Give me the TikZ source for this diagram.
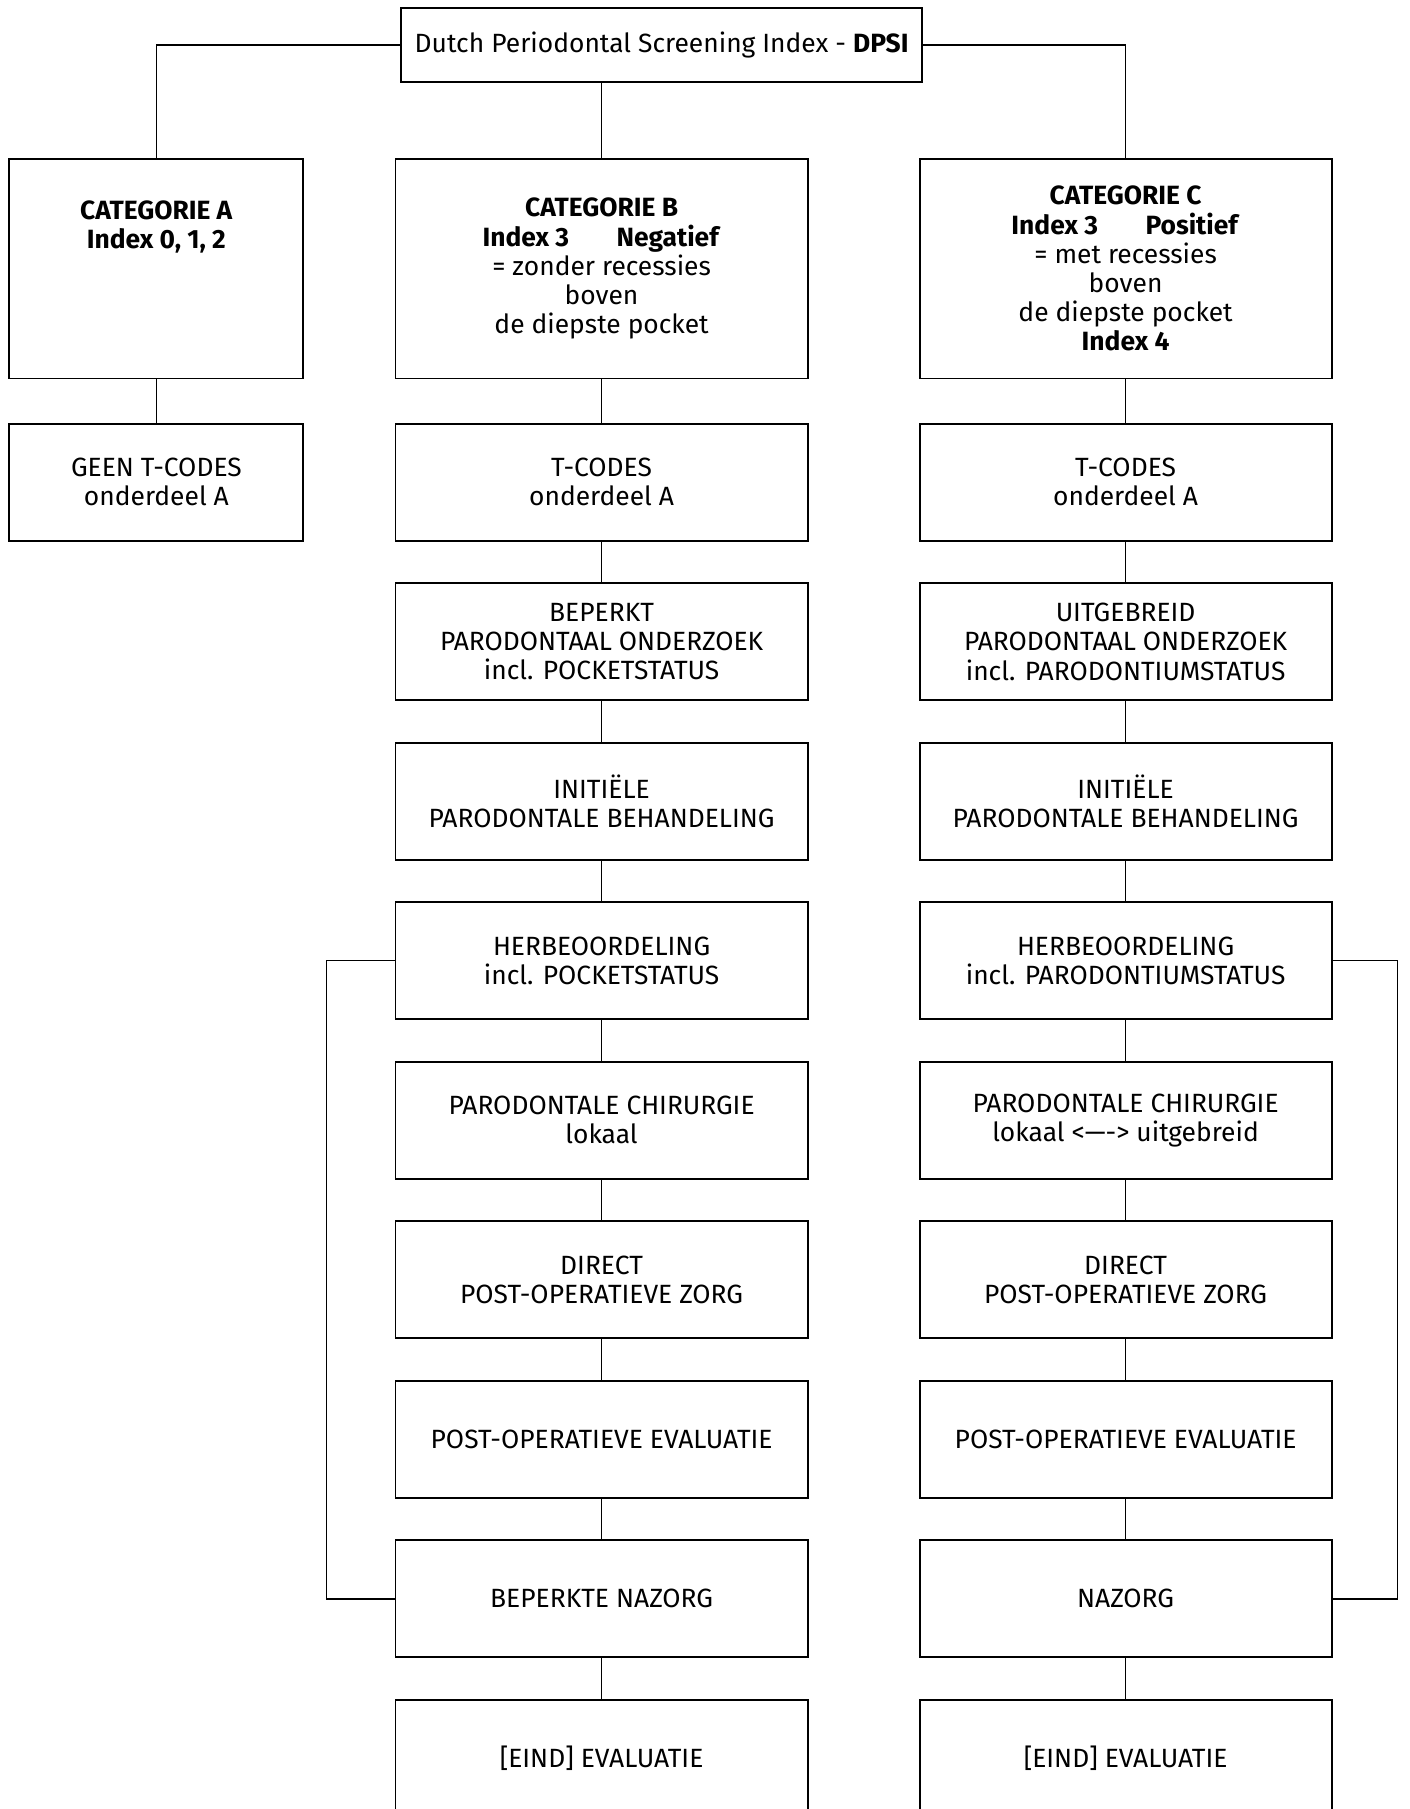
\documentclass[tikz,border=0pt]{standalone}
\usepackage{fontspec}
\setmainfont{Fira Sans}
\usetikzlibrary{positioning}

\begin{document}
\begin{tikzpicture}[node distance=79.76pt,
		box/.style={draw, rectangle, line width=0.9pt, align=center, minimum width=206pt, minimum height=58.5pt, inner sep=2pt, font=\fontsize{13.2}{14.6}\selectfont},
		kat/.style={box, minimum height=109.6pt},
		lijn/.style={line width=0.7pt}]
		
		\useasboundingbox (-330.8pt,22.5pt) rectangle (373.7pt,-882pt);
		
		% nodes
		\node[box, minimum width=260.7pt, minimum height=37pt] (dpsi) {Dutch Periodontal Screening Index - \textbf{DPSI}};
		
		\node[kat, minimum width=147pt] (catA) at (-252.6pt,-111.9pt)
		{\textbf{CATEGORIE A}\\\textbf{Index 0, 1, 2}\\\mbox{}\\\mbox{}\\\mbox{}};
		\node[kat] (catB) at (-30pt,-111.9pt)
		{\textbf{CATEGORIE B}\\\textbf{Index 3\hspace{1.8em}Negatief}\\= zonder recessies\\boven\\de diepste pocket};
		\node[kat] (catC) at (232pt,-111.9pt)
		{\textbf{CATEGORIE C}\\\textbf{Index 3\hspace{1.8em}Positief}\\= met recessies\\boven\\de diepste pocket\\\textbf{Index 4}};
		
		% kolom A
		\node[box, minimum width=147pt, below of = catA, node distance = 106.7pt] (tcodesA) {GEEN T-CODES\\onderdeel A};
		
		% kolom B
		\node[box, below of = catB, node distance = 106.7pt] (tcodesB) {T-CODES\\onderdeel A};
		\node[box, below of = tcodesB] (onderzoekB) {BEPERKT\\PARODONTAAL ONDERZOEK\\incl. POCKETSTATUS};
		\node[box, below of = onderzoekB] (behandelingB) {INITIËLE\\PARODONTALE BEHANDELING};
		\node[box, below of = behandelingB] (herbeoordelingB) {HERBEOORDELING\\incl. POCKETSTATUS};
		\node[box, below of = herbeoordelingB] (chirurgieB) {PARODONTALE CHIRURGIE\\lokaal};
		\node[box, below of = chirurgieB] (zorgB) {DIRECT\\POST-OPERATIEVE ZORG};
		\node[box, below of = zorgB] (evaluatieB) {POST-OPERATIEVE EVALUATIE};
		\node[box, below of = evaluatieB] (nazorgB) {BEPERKTE NAZORG};
		\node[box, below of = nazorgB] (eindB) {[EIND] EVALUATIE};
		
		% kolom C
		\node[box, below of = catC, node distance = 106.7pt] (tcodesC) {T-CODES\\onderdeel A};
		\node[box, below of = tcodesC] (onderzoekC) {UITGEBREID\\PARODONTAAL ONDERZOEK\\incl. PARODONTIUMSTATUS};
		\node[box, below of = onderzoekC] (behandelingC) {INITIËLE\\PARODONTALE BEHANDELING};
		\node[box, below of = behandelingC] (herbeoordelingC) {HERBEOORDELING\\incl. PARODONTIUMSTATUS};
		\node[box, below of = herbeoordelingC] (chirurgieC) {PARODONTALE CHIRURGIE\\lokaal <—-> uitgebreid};
		\node[box, below of = chirurgieC] (zorgC) {DIRECT\\POST-OPERATIEVE ZORG};
		\node[box, below of = zorgC] (evaluatieC) {POST-OPERATIEVE EVALUATIE};
		\node[box, below of = evaluatieC] (nazorgC) {NAZORG};
		\node[box, below of = nazorgC] (eindC) {[EIND] EVALUATIE};
		
		% lijnen
		\draw[lijn] (dpsi.west) -| (catA.north);
		\draw[lijn] (dpsi.east) -| (catC.north);
		\draw[lijn] (dpsi.south -| catB.north) -- (catB.north);
		\draw[lijn] (catA) -- (tcodesA);
		\foreach \kol in {B,C}{
			\foreach \van/\naar in {cat/tcodes, tcodes/onderzoek, onderzoek/behandeling, behandeling/herbeoordeling, herbeoordeling/chirurgie, chirurgie/zorg, zorg/evaluatie, evaluatie/nazorg, nazorg/eind}
			\draw[lijn] (\van\kol) -- (\naar\kol);
		}
		\draw[lijn] (herbeoordelingB.west) -- ++(-34.2pt,0) |- (nazorgB.west);
		\draw[lijn] (herbeoordelingC.east) -- ++(32.4pt,0) |- (nazorgC.east);
\end{tikzpicture}
\end{document}
